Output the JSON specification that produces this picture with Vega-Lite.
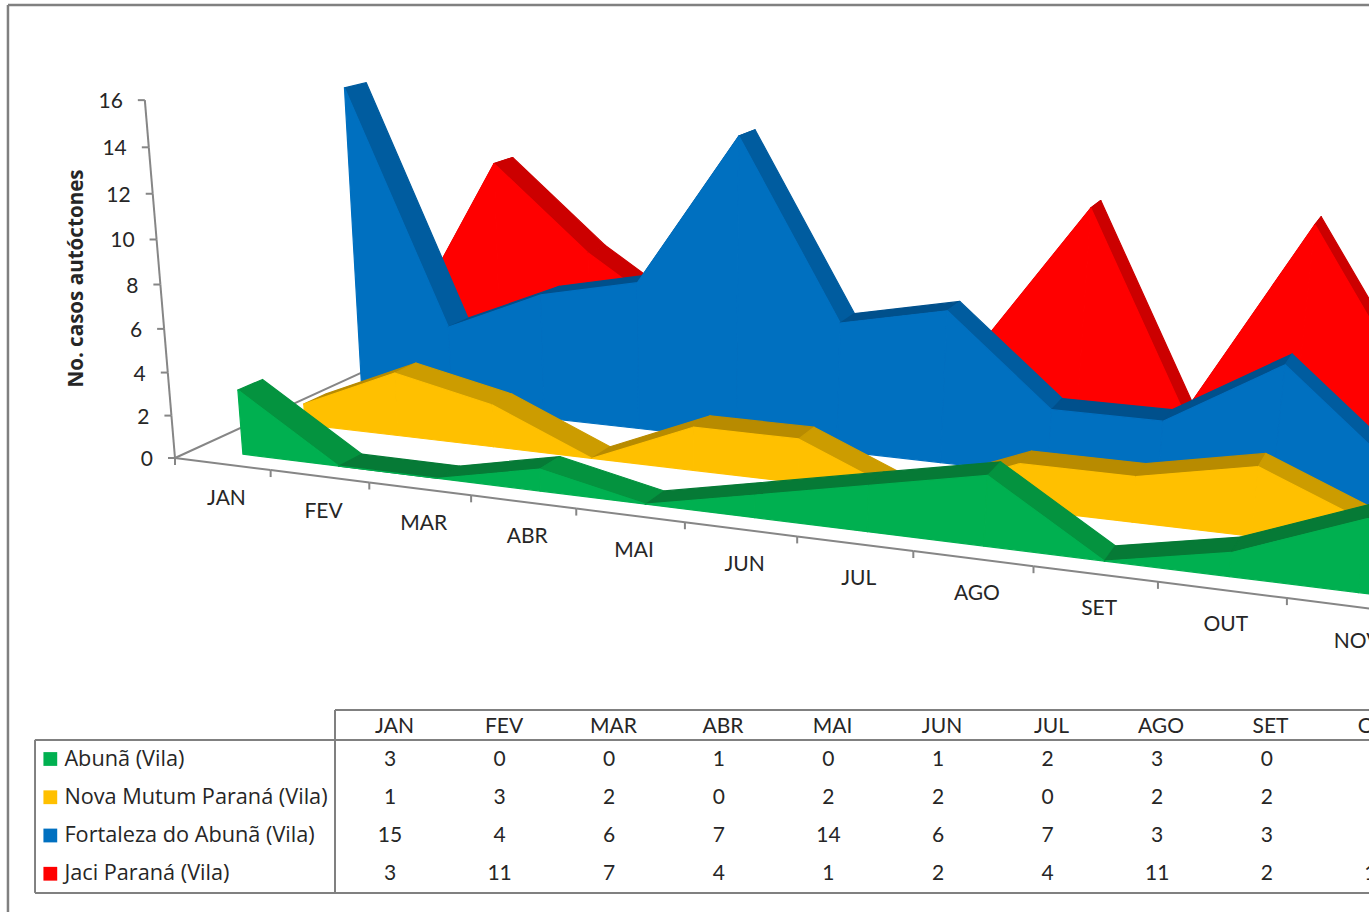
{
  "$schema": "https://vega.github.io/schema/vega-lite/v6.json",
  "description": "Autochthonous cases per month and village: perspective area ribbons over a data table",
  "width": 1369,
  "height": 912,
  "autosize": {"type": "fit", "contains": "padding"},
  "padding": 0,
  "background": "#ffffff",
  "config": {
    "view": {"stroke": null},
    "text": {"font": "Lato", "fontSize": 21, "fill": "#262626", "dy": 2}
  },
  "datasets": {
    "cases": [
      {"series": "Jaci Paraná (Vila)", "month": "JAN", "cases": 3},
      {"series": "Jaci Paraná (Vila)", "month": "FEV", "cases": 11},
      {"series": "Jaci Paraná (Vila)", "month": "MAR", "cases": 7},
      {"series": "Jaci Paraná (Vila)", "month": "ABR", "cases": 4},
      {"series": "Jaci Paraná (Vila)", "month": "MAI", "cases": 1},
      {"series": "Jaci Paraná (Vila)", "month": "JUN", "cases": 2},
      {"series": "Jaci Paraná (Vila)", "month": "JUL", "cases": 4},
      {"series": "Jaci Paraná (Vila)", "month": "AGO", "cases": 11},
      {"series": "Jaci Paraná (Vila)", "month": "SET", "cases": 2},
      {"series": "Jaci Paraná (Vila)", "month": "OUT", "cases": 11},
      {"series": "Jaci Paraná (Vila)", "month": "NOV", "cases": 4},
      {"series": "Jaci Paraná (Vila)", "month": "DEZ", "cases": 4},
      {"series": "Fortaleza do Abunã (Vila)", "month": "JAN", "cases": 15},
      {"series": "Fortaleza do Abunã (Vila)", "month": "FEV", "cases": 4},
      {"series": "Fortaleza do Abunã (Vila)", "month": "MAR", "cases": 6},
      {"series": "Fortaleza do Abunã (Vila)", "month": "ABR", "cases": 7},
      {"series": "Fortaleza do Abunã (Vila)", "month": "MAI", "cases": 14},
      {"series": "Fortaleza do Abunã (Vila)", "month": "JUN", "cases": 6},
      {"series": "Fortaleza do Abunã (Vila)", "month": "JUL", "cases": 7},
      {"series": "Fortaleza do Abunã (Vila)", "month": "AGO", "cases": 3},
      {"series": "Fortaleza do Abunã (Vila)", "month": "SET", "cases": 3},
      {"series": "Fortaleza do Abunã (Vila)", "month": "OUT", "cases": 6},
      {"series": "Fortaleza do Abunã (Vila)", "month": "NOV", "cases": 2},
      {"series": "Fortaleza do Abunã (Vila)", "month": "DEZ", "cases": 2},
      {"series": "Nova Mutum Paraná (Vila)", "month": "JAN", "cases": 1},
      {"series": "Nova Mutum Paraná (Vila)", "month": "FEV", "cases": 3},
      {"series": "Nova Mutum Paraná (Vila)", "month": "MAR", "cases": 2},
      {"series": "Nova Mutum Paraná (Vila)", "month": "ABR", "cases": 0},
      {"series": "Nova Mutum Paraná (Vila)", "month": "MAI", "cases": 2},
      {"series": "Nova Mutum Paraná (Vila)", "month": "JUN", "cases": 2},
      {"series": "Nova Mutum Paraná (Vila)", "month": "JUL", "cases": 0},
      {"series": "Nova Mutum Paraná (Vila)", "month": "AGO", "cases": 2},
      {"series": "Nova Mutum Paraná (Vila)", "month": "SET", "cases": 2},
      {"series": "Nova Mutum Paraná (Vila)", "month": "OUT", "cases": 3},
      {"series": "Nova Mutum Paraná (Vila)", "month": "NOV", "cases": 1},
      {"series": "Nova Mutum Paraná (Vila)", "month": "DEZ", "cases": 1},
      {"series": "Abunã (Vila)", "month": "JAN", "cases": 3},
      {"series": "Abunã (Vila)", "month": "FEV", "cases": 0},
      {"series": "Abunã (Vila)", "month": "MAR", "cases": 0},
      {"series": "Abunã (Vila)", "month": "ABR", "cases": 1},
      {"series": "Abunã (Vila)", "month": "MAI", "cases": 0},
      {"series": "Abunã (Vila)", "month": "JUN", "cases": 1},
      {"series": "Abunã (Vila)", "month": "JUL", "cases": 2},
      {"series": "Abunã (Vila)", "month": "AGO", "cases": 3},
      {"series": "Abunã (Vila)", "month": "SET", "cases": 0},
      {"series": "Abunã (Vila)", "month": "OUT", "cases": 1},
      {"series": "Abunã (Vila)", "month": "NOV", "cases": 3},
      {"series": "Abunã (Vila)", "month": "DEZ", "cases": 3}
    ],
    "scaleSteps": [
      {"tick": 0}, {"tick": 2}, {"tick": 4}, {"tick": 6}, {"tick": 8},
      {"tick": 10}, {"tick": 12}, {"tick": 14}, {"tick": 16}
    ],
    "tableLines": [
      {"fromCol": -3.473, "toCol": -3.473, "fromRow": -19.71, "toRow": 5, "line": "frame"},
      {"fromCol": -3.473, "toCol": 12, "fromRow": -19.71, "toRow": -19.71, "line": "frame"},
      {"fromCol": -0.5, "toCol": 12, "fromRow": -1.28, "toRow": -1.28, "line": "grid"},
      {"fromCol": -3.227, "toCol": 12, "fromRow": -0.5, "toRow": -0.5, "line": "grid"},
      {"fromCol": -3.227, "toCol": 12, "fromRow": 3.5, "toRow": 3.5, "line": "grid"},
      {"fromCol": -3.227, "toCol": -3.227, "fromRow": -0.5, "toRow": 3.5, "line": "grid"},
      {"fromCol": -0.5, "toCol": -0.5, "fromRow": -1.28, "toRow": 3.5, "line": "grid"}
    ]
  },
  "encoding": {
    "x": {"field": "px", "type": "quantitative", "scale": {"domain": [0, 1369], "range": [0, 1369]}, "axis": null},
    "y": {"field": "py", "type": "quantitative", "stack": null, "scale": {"domain": [0, 912], "range": [0, 912]}, "axis": null}
  },
  "layer": [
    {
      "description": "Frame and table grid, positioned in table column and row units",
      "data": {"name": "tableLines"},
      "transform": [
        {"calculate": "390 + 110 * datum.fromCol", "as": "px"},
        {"calculate": "390 + 110 * datum.toCol", "as": "px2"},
        {"calculate": "759 + 38.25 * datum.fromRow", "as": "py"},
        {"calculate": "759 + 38.25 * datum.toRow", "as": "py2"}
      ],
      "mark": {"type": "rule", "clip": true, "stroke": "#808080"},
      "encoding": {
        "x2": {"field": "px2"},
        "y2": {"field": "py2"},
        "strokeWidth": {"field": "line", "type": "nominal", "scale": {"domain": ["frame", "grid"], "range": [2.5, 2]}, "legend": null}
      }
    },
    {
      "description": "Category axis along the front floor edge, one segment per month",
      "data": {"name": "cases"},
      "transform": [
        {"filter": "datum.series === 'Abunã (Vila)'"},
        {"calculate": "indexof(['JAN','FEV','MAR','ABR','MAI','JUN','JUL','AGO','SET','OUT','NOV','DEZ'], datum.month)", "as": "t"},
        {"calculate": "(175 + 91.5 * datum.t) / (1 - 0.0153 * datum.t)", "as": "px"},
        {"calculate": "(458 + 4.86 * datum.t) / (1 - 0.0153 * datum.t)", "as": "py"},
        {"calculate": "(175 + 91.5 * (datum.t + 1)) / (1 - 0.0153 * (datum.t + 1))", "as": "px2"},
        {"calculate": "(458 + 4.86 * (datum.t + 1)) / (1 - 0.0153 * (datum.t + 1))", "as": "py2"}
      ],
      "mark": {"type": "rule", "clip": true, "stroke": "#868686", "strokeWidth": 2},
      "encoding": {"x2": {"field": "px2"}, "y2": {"field": "py2"}}
    },
    {
      "description": "Category axis tick marks",
      "data": {"name": "cases"},
      "transform": [
        {"filter": "datum.series === 'Abunã (Vila)'"},
        {"calculate": "indexof(['JAN','FEV','MAR','ABR','MAI','JUN','JUL','AGO','SET','OUT','NOV','DEZ'], datum.month)", "as": "t"},
        {"calculate": "(175 + 91.5 * datum.t) / (1 - 0.0153 * datum.t)", "as": "px"},
        {"calculate": "(458 + 4.86 * datum.t) / (1 - 0.0153 * datum.t)", "as": "py"},
        {"calculate": "datum.py + 7", "as": "py2"}
      ],
      "mark": {"type": "rule", "clip": true, "stroke": "#868686", "strokeWidth": 2},
      "encoding": {"y2": {"field": "py2"}}
    },
    {
      "description": "Category axis labels, centred under each month",
      "data": {"name": "cases"},
      "transform": [
        {"filter": "datum.series === 'Abunã (Vila)'"},
        {"calculate": "indexof(['JAN','FEV','MAR','ABR','MAI','JUN','JUL','AGO','SET','OUT','NOV','DEZ'], datum.month)", "as": "t"},
        {"calculate": "4 + (175 + 91.5 * (datum.t + 0.5)) / (1 - 0.0153 * (datum.t + 0.5))", "as": "px"},
        {"calculate": "33.5 + (458 + 4.86 * (datum.t + 0.5)) / (1 - 0.0153 * (datum.t + 0.5))", "as": "py"}
      ],
      "mark": {"type": "text", "clip": true, "align": "center", "baseline": "middle"},
      "encoding": {"text": {"field": "month", "type": "nominal"}}
    },
    {
      "description": "Value axis line standing on the floor corner",
      "data": {"name": "scaleSteps"},
      "transform": [
        {"filter": "datum.tick < 16"},
        {"calculate": "0.98 * datum.tick", "as": "v"},
        {"calculate": "0.98 * (datum.tick + 2)", "as": "v2"},
        {"calculate": "(175 - 2.47 * datum.v) / (1 - 0.00377 * datum.v)", "as": "px"},
        {"calculate": "(458 - 23.2 * datum.v) / (1 - 0.00377 * datum.v)", "as": "py"},
        {"calculate": "(175 - 2.47 * datum.v2) / (1 - 0.00377 * datum.v2)", "as": "px2"},
        {"calculate": "(458 - 23.2 * datum.v2) / (1 - 0.00377 * datum.v2)", "as": "py2"}
      ],
      "mark": {"type": "rule", "stroke": "#868686", "strokeWidth": 2},
      "encoding": {"x2": {"field": "px2"}, "y2": {"field": "py2"}}
    },
    {
      "description": "Value axis tick marks",
      "data": {"name": "scaleSteps"},
      "transform": [
        {"calculate": "0.98 * datum.tick", "as": "v"},
        {"calculate": "(175 - 2.47 * datum.v) / (1 - 0.00377 * datum.v)", "as": "px"},
        {"calculate": "(458 - 23.2 * datum.v) / (1 - 0.00377 * datum.v)", "as": "py"},
        {"calculate": "datum.px - 7", "as": "px2"}
      ],
      "mark": {"type": "rule", "stroke": "#868686", "strokeWidth": 2},
      "encoding": {"x2": {"field": "px2"}}
    },
    {
      "description": "Value axis labels",
      "data": {"name": "scaleSteps"},
      "transform": [
        {"calculate": "0.98 * datum.tick", "as": "v"},
        {"calculate": "(175 - 2.47 * datum.v) / (1 - 0.00377 * datum.v) - 22", "as": "px"},
        {"calculate": "(458 - 23.2 * datum.v) / (1 - 0.00377 * datum.v)", "as": "py"}
      ],
      "mark": {"type": "text", "align": "right", "baseline": "middle"},
      "encoding": {"text": {"field": "tick", "type": "quantitative"}}
    },
    {
      "description": "Value axis title",
      "data": {"name": "scaleSteps"},
      "transform": [
        {"filter": "datum.tick === 8"},
        {"calculate": "'No. casos autóctones'", "as": "label"},
        {"calculate": "0.98 * datum.tick", "as": "v"},
        {"calculate": "(175 - 2.47 * datum.v) / (1 - 0.00377 * datum.v) - 83", "as": "px"},
        {"calculate": "(458 - 23.2 * datum.v) / (1 - 0.00377 * datum.v) - 6", "as": "py"}
      ],
      "mark": {"type": "text", "align": "center", "baseline": "middle", "angle": 270, "fontWeight": "bold", "dy": 0, "font": "Open Sans", "fontSize": 20.6},
      "encoding": {"text": {"field": "label", "type": "nominal"}}
    },
    {
      "description": "Floor edge running back from the corner",
      "data": {"name": "scaleSteps"},
      "transform": [
        {"filter": "datum.tick === 0"},
        {"calculate": "175", "as": "px"},
        {"calculate": "458", "as": "py"},
        {"calculate": "(175 + 76.7 * 4) / (1 + 0.046 * 4)", "as": "px2"},
        {"calculate": "(458 - 10.35 * 4) / (1 + 0.046 * 4)", "as": "py2"}
      ],
      "mark": {"type": "rule", "stroke": "#868686", "strokeWidth": 2},
      "encoding": {"x2": {"field": "px2"}, "y2": {"field": "py2"}}
    },
    {
      "description": "Series ribbons and front faces, one quad per month interval, projected from (month, depth, cases) to the page, drawn back to front",
      "data": {"name": "cases"},
      "transform": [
        {"calculate": "indexof(['JAN','FEV','MAR','ABR','MAI','JUN','JUL','AGO','SET','OUT','NOV','DEZ'], datum.month)", "as": "t"},
        {"calculate": "indexof(['Abunã (Vila)','Nova Mutum Paraná (Vila)','Fortaleza do Abunã (Vila)','Jaci Paraná (Vila)'], datum.series)", "as": "k"},
        {"window": [{"op": "lead", "field": "cases", "as": "next"}], "groupby": ["series"], "sort": [{"field": "t", "order": "ascending"}]},
        {"filter": "isValid(datum.next)"},
        {"fold": ["ribbon", "face"], "as": ["part", "partValue"]},
        {"fold": ["c0", "c1", "c2", "c3"], "as": ["corner", "cornerValue"]},
        {"calculate": "indexof(['c0','c1','c2','c3'], datum.corner)", "as": "cornerOrder"},
        {"calculate": "datum.series + '|' + datum.month + '|' + datum.part", "as": "quad"},
        {"calculate": "datum.part === 'face' ? datum.series + ' face' : (datum.next < datum.cases ? datum.series + ' down' : datum.series + ' up')", "as": "tone"},
        {"calculate": "datum.t + 0.5 + (datum.cornerOrder === 1 || datum.cornerOrder === 2 ? 1 : 0)", "as": "mx"},
        {"calculate": "datum.part === 'ribbon' ? (datum.cornerOrder < 2 ? datum.k + 0.31 : datum.k + 0.69) : datum.k + 0.31", "as": "dz"},
        {"calculate": "datum.part === 'face' && datum.cornerOrder >= 2 ? 0 : (datum.cornerOrder === 1 || datum.cornerOrder === 2 ? datum.next : datum.cases)", "as": "vh"},
        {"calculate": "1 - 0.0153 * datum.mx + 0.046 * datum.dz - 0.00377 * datum.vh", "as": "w"},
        {"calculate": "(175 + 91.5 * datum.mx + 76.7 * datum.dz - 2.6 * datum.vh) / datum.w", "as": "px"},
        {"calculate": "(458 + 4.86 * datum.mx - 10.35 * datum.dz - 23 * datum.vh) / datum.w", "as": "py"}
      ],
      "mark": {"type": "line", "clip": true, "strokeWidth": 1.2, "strokeJoin": "round", "interpolate": "linear-closed"},
      "encoding": {
        "detail": {"field": "quad", "type": "nominal"},
        "order": {"field": "cornerOrder", "type": "quantitative"},
        "fill": {
          "field": "tone", "type": "nominal", "legend": null,
          "scale": {
            "domain": ["Abunã (Vila) face", "Abunã (Vila) down", "Abunã (Vila) up", "Nova Mutum Paraná (Vila) face", "Nova Mutum Paraná (Vila) down", "Nova Mutum Paraná (Vila) up", "Fortaleza do Abunã (Vila) face", "Fortaleza do Abunã (Vila) down", "Fortaleza do Abunã (Vila) up", "Jaci Paraná (Vila) face", "Jaci Paraná (Vila) down", "Jaci Paraná (Vila) up"],
            "range": ["#00b050", "#04933f", "#067a36", "#ffc000", "#cc9c00", "#b88b00", "#0070c0", "#005c9f", "#00508c", "#ff0000", "#cc0000", "#b00000"]
          }
        },
        "stroke": {
          "field": "tone", "type": "nominal", "legend": null,
          "scale": {
            "domain": ["Abunã (Vila) face", "Abunã (Vila) down", "Abunã (Vila) up", "Nova Mutum Paraná (Vila) face", "Nova Mutum Paraná (Vila) down", "Nova Mutum Paraná (Vila) up", "Fortaleza do Abunã (Vila) face", "Fortaleza do Abunã (Vila) down", "Fortaleza do Abunã (Vila) up", "Jaci Paraná (Vila) face", "Jaci Paraná (Vila) down", "Jaci Paraná (Vila) up"],
            "range": ["#00b050", "#04933f", "#067a36", "#ffc000", "#cc9c00", "#b88b00", "#0070c0", "#005c9f", "#00508c", "#ff0000", "#cc0000", "#b00000"]
          }
        }
      }
    },
    {
      "description": "Data table header",
      "data": {"name": "cases"},
      "transform": [
        {"filter": "datum.series === 'Abunã (Vila)'"},
        {"calculate": "indexof(['JAN','FEV','MAR','ABR','MAI','JUN','JUL','AGO','SET','OUT','NOV','DEZ'], datum.month)", "as": "t"},
        {"calculate": "394.5 + 109.5 * datum.t", "as": "px"},
        {"calculate": "759 - 0.88 * 38.25", "as": "py"}
      ],
      "mark": {"type": "text", "clip": true, "align": "center", "baseline": "middle"},
      "encoding": {"text": {"field": "month", "type": "nominal"}}
    },
    {
      "description": "Data table values",
      "data": {"name": "cases"},
      "transform": [
        {"calculate": "indexof(['JAN','FEV','MAR','ABR','MAI','JUN','JUL','AGO','SET','OUT','NOV','DEZ'], datum.month)", "as": "t"},
        {"calculate": "indexof(['Abunã (Vila)','Nova Mutum Paraná (Vila)','Fortaleza do Abunã (Vila)','Jaci Paraná (Vila)'], datum.series)", "as": "k"},
        {"calculate": "390 + 109.6 * datum.t", "as": "px"},
        {"calculate": "757.5 + 38.25 * datum.k", "as": "py"}
      ],
      "mark": {"type": "text", "clip": true, "align": "center", "baseline": "middle"},
      "encoding": {"text": {"field": "cases", "type": "quantitative"}}
    },
    {
      "description": "Legend keys in the table's first column",
      "data": {"name": "cases"},
      "transform": [
        {"filter": "datum.month === 'JAN'"},
        {"calculate": "indexof(['Abunã (Vila)','Nova Mutum Paraná (Vila)','Fortaleza do Abunã (Vila)','Jaci Paraná (Vila)'], datum.series)", "as": "k"},
        {"calculate": "datum.series + ' face'", "as": "tone"},
        {"calculate": "390 + 110 * -3.088", "as": "px"},
        {"calculate": "759 + 38.25 * datum.k", "as": "py"}
      ],
      "mark": {"type": "square", "size": 190, "opacity": 1},
      "encoding": {
        "fill": {"field": "tone", "type": "nominal", "legend": null}
      }
    },
    {
      "description": "Series names in the table's first column",
      "data": {"name": "cases"},
      "transform": [
        {"filter": "datum.month === 'JAN'"},
        {"calculate": "indexof(['Abunã (Vila)','Nova Mutum Paraná (Vila)','Fortaleza do Abunã (Vila)','Jaci Paraná (Vila)'], datum.series)", "as": "k"},
        {"calculate": "390 + 110 * -2.96", "as": "px"},
        {"calculate": "756.5 + 38.25 * datum.k", "as": "py"}
      ],
      "mark": {"type": "text", "align": "left", "baseline": "middle", "font": "Open Sans", "fontSize": 21.7},
      "encoding": {"text": {"field": "series", "type": "nominal"}}
    }
  ]
}
